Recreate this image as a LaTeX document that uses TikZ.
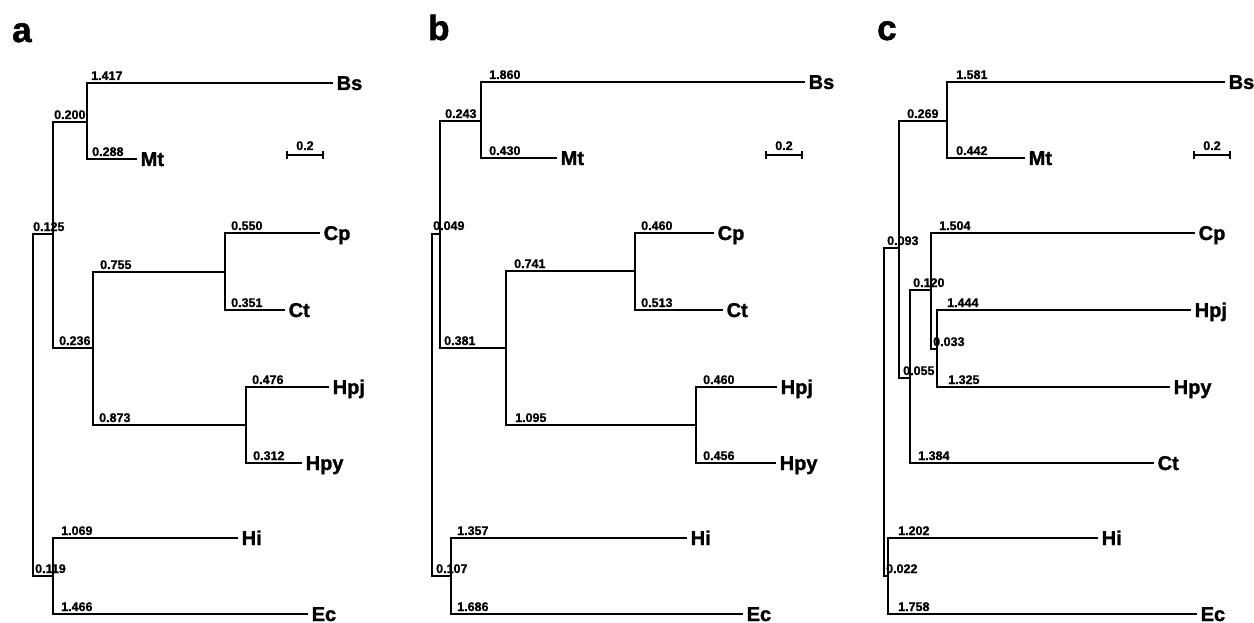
\documentclass[tikz,border=0pt]{standalone}
\usepackage{fontspec}
\setmainfont{Liberation Sans}
\newfontfamily\heavyfont{Liberation Sans Bold}[FakeBold=1.5]
\newfontfamily\numfont{Liberation Sans Bold}[FakeBold=1.0]
\tikzset{
  br/.style={line width=1.7pt},
  tx/.style={font=\fontsize{20}{20}\heavyfont, anchor=west, inner xsep=3.5pt, inner ysep=0pt, text height=14pt, text depth=0pt},
  bl/.style={font=\fontsize{12.5}{12.5}\numfont, anchor=base west, inner sep=0pt, yshift=3pt},
  sbl/.style={font=\fontsize{12.5}{12.5}\numfont, anchor=base, inner sep=0pt, yshift=5pt},
  pl/.style={font=\fontsize{35}{35}\heavyfont, anchor=base west, inner sep=0pt},
  tickl/.style={line width=1.4pt},
}
\newcommand\blab[4]{\node[bl] (#1) at (#2,#3) {#4};}
\begin{document}
\begin{tikzpicture}[x=1pt,y=-1pt]
\useasboundingbox (0,0) rectangle (1254,623);
% ================= panel a =================
\node[pl] (pa) at (12,42) {a};
\coordinate (aR) at (33,405);
\coordinate (a1) at (53,234);
\coordinate (a2) at (87,122);
\coordinate (a3) at (93,348);
\coordinate (a4) at (225,272);
\coordinate (a5) at (246,425);
\coordinate (a6) at (53,576);
\node[tx] (aBs) at (333,83) {Bs};
\node[tx] (aMt) at (137,159) {Mt};
\node[tx] (aCp) at (320,233) {Cp};
\node[tx] (aCt) at (285,310) {Ct};
\node[tx] (aHpj) at (329,387) {Hpj};
\node[tx] (aHpy) at (302,463) {Hpy};
\node[tx] (aHi) at (238,538) {Hi};
\node[tx] (aEc) at (308,614) {Ec};
\draw[br] (aR) |- (a1) (aR) |- (a6)
  (a1) |- (a2) (a1) |- (a3)
  (a2) |- (aBs.west) (a2) |- (aMt.west)
  (a3) |- (a4) (a3) |- (a5)
  (a4) |- (aCp.west) (a4) |- (aCt.west)
  (a5) |- (aHpj.west) (a5) |- (aHpy.west)
  (a6) |- (aHi.west) (a6) |- (aEc.west);
\blab{la1}{91}{83}{1.417}
\blab{la2}{54}{122}{0.200}
\blab{la3}{92}{159}{0.288}
\blab{la4}{33}{234}{0.125}
\blab{la5}{231}{233}{0.550}
\blab{la6}{100}{272}{0.755}
\blab{la7}{231}{310}{0.351}
\blab{la8}{59}{348}{0.236}
\blab{la9}{99}{425}{0.873}
\blab{la10}{252}{387}{0.476}
\blab{la11}{253}{463}{0.312}
\blab{la12}{61}{538}{1.069}
\blab{la13}{35}{576}{0.119}
\blab{la14}{61}{614}{1.466}
\coordinate (saL) at (287,155);
\coordinate (saR) at (323,155);
\draw[br] (saL) -- node[sbl] (sa) {0.2} (saR);
\draw[tickl] (saL) ++(0,-4) -- ++(0,8) (saR) ++(0,-4) -- ++(0,8);
% ================= panel b =================
\node[pl] (pb) at (428,40) {b};
\coordinate (bR) at (432,404);
\coordinate (b1) at (440,234);
\coordinate (b2) at (481,121);
\coordinate (b3) at (506,348);
\coordinate (b4) at (635,271);
\coordinate (b5) at (696,425);
\coordinate (b6) at (451,576);
\node[tx] (bBs) at (805,82) {Bs};
\node[tx] (bMt) at (557,158) {Mt};
\node[tx] (bCp) at (714,233) {Cp};
\node[tx] (bCt) at (723,310) {Ct};
\node[tx] (bHpj) at (777,387) {Hpj};
\node[tx] (bHpy) at (776,463) {Hpy};
\node[tx] (bHi) at (687,538) {Hi};
\node[tx] (bEc) at (743,614) {Ec};
\draw[br] (bR) |- (b1) (bR) |- (b6)
  (b1) |- (b2) (b1) |- (b3)
  (b2) |- (bBs.west) (b2) |- (bMt.west)
  (b3) |- (b4) (b3) |- (b5)
  (b4) |- (bCp.west) (b4) |- (bCt.west)
  (b5) |- (bHpj.west) (b5) |- (bHpy.west)
  (b6) |- (bHi.west) (b6) |- (bEc.west);
\blab{lb1}{489}{82}{1.860}
\blab{lb2}{445}{121}{0.243}
\blab{lb3}{489}{158}{0.430}
\blab{lb4}{433}{233}{0.049}
\blab{lb5}{514}{271}{0.741}
\blab{lb6}{641}{233}{0.460}
\blab{lb7}{641}{310}{0.513}
\blab{lb8}{444}{348}{0.381}
\blab{lb9}{515}{425}{1.095}
\blab{lb10}{703}{387}{0.460}
\blab{lb11}{703}{463}{0.456}
\blab{lb12}{457}{538}{1.357}
\blab{lb13}{436}{576}{0.107}
\blab{lb14}{457}{614}{1.686}
\coordinate (sbL) at (766,155);
\coordinate (sbR) at (802,155);
\draw[br] (sbL) -- node[sbl] (sb) {0.2} (sbR);
\draw[tickl] (sbL) ++(0,-4) -- ++(0,8) (sbR) ++(0,-4) -- ++(0,8);
% ================= panel c =================
\node[pl] (pc) at (877,40) {c};
\coordinate (cR) at (884,412);
\coordinate (c1) at (899,248);
\coordinate (c2) at (947,121);
\coordinate (c3) at (910,378);
\coordinate (c4) at (931,290);
\coordinate (c5) at (937,349);
\coordinate (c6) at (888,576);
\node[tx] (cBs) at (1225,82) {Bs};
\node[tx] (cMt) at (1025,158) {Mt};
\node[tx] (cCp) at (1195,233) {Cp};
\node[tx] (cHpj) at (1191,310) {Hpj};
\node[tx] (cHpy) at (1170,387) {Hpy};
\node[tx] (cCt) at (1154,463) {Ct};
\node[tx] (cHi) at (1098,538) {Hi};
\node[tx] (cEc) at (1197,614) {Ec};
\draw[br] (cR) |- (c1) (cR) |- (c6)
  (c1) |- (c2) (c1) |- (c3)
  (c2) |- (cBs.west) (c2) |- (cMt.west)
  (c3) |- (c4) (c3) |- (cCt.west)
  (c4) |- (cCp.west) (c4) |- (c5)
  (c5) |- (cHpj.west) (c5) |- (cHpy.west)
  (c6) |- (cHi.west) (c6) |- (cEc.west);
\blab{lc1}{956}{82}{1.581}
\blab{lc2}{907}{121}{0.269}
\blab{lc3}{956}{158}{0.442}
\blab{lc4}{887}{248}{0.093}
\blab{lc5}{939}{233}{1.504}
\blab{lc6}{913}{290}{0.120}
\blab{lc7}{947}{310}{1.444}
\blab{lc8}{933}{349}{0.033}
\blab{lc9}{903}{378}{0.055}
\blab{lc10}{948}{387}{1.325}
\blab{lc11}{918}{463}{1.384}
\blab{lc12}{898}{538}{1.202}
\blab{lc13}{886}{576}{0.022}
\blab{lc14}{898}{614}{1.758}
\coordinate (scL) at (1194,155);
\coordinate (scR) at (1230,155);
\draw[br] (scL) -- node[sbl] (sc) {0.2} (scR);
\draw[tickl] (scL) ++(0,-4) -- ++(0,8) (scR) ++(0,-4) -- ++(0,8);
\end{tikzpicture}
\end{document}
